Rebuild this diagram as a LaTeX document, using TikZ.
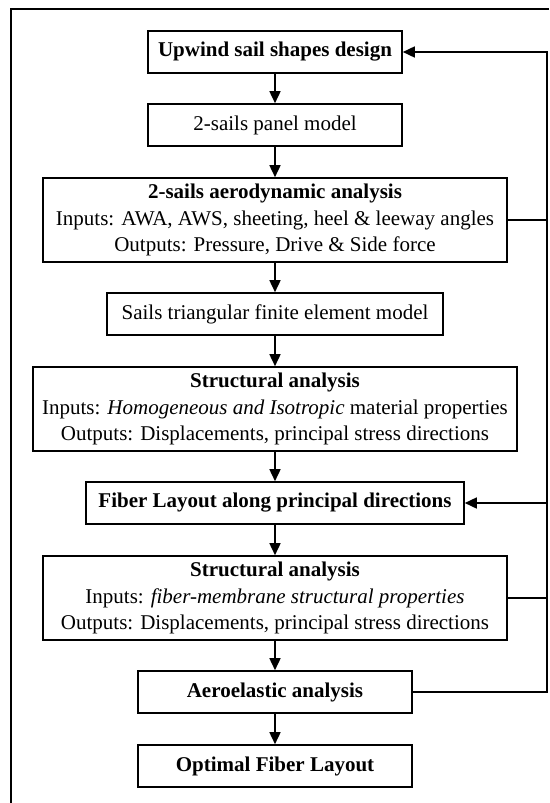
\documentclass[tikz,border=0pt]{standalone}
\usepackage{fontspec}
\setmainfont{Liberation Serif}
\usepackage{tikz}
\usetikzlibrary{arrows.meta,calc,positioning}

\begin{document}
\begin{tikzpicture}[
    x=1pt,
    y=-1pt,
    >={Triangle[length=12pt,width=11pt]},
    box/.style={draw, line width=1.6pt, align=center, minimum height=42pt, inner sep=0pt, font=\fontsize{21}{26.5}\selectfont},
    tallbox/.style={box, minimum height=84pt},
    line/.style={->, line width=1.6pt},
    link/.style={line width=1.6pt}
]
\useasboundingbox (0,0) rectangle (549,803);
% frame round the chart
\draw[link] (549,9) -| (11,803);

\node[box, minimum width=254pt] (design) at (275,52) {\textbf{Upwind sail shapes design}};
\node[box, minimum width=254pt] (panel) at (275,125) {2-sails panel model};
\node[tallbox, minimum width=464pt] (aero) at (275,220) {\textbf{2-sails aerodynamic analysis}\\Inputs: AWA, AWS, sheeting, heel \& leeway angles\\Outputs: Pressure, Drive \& Side force};
\node[box, minimum width=336pt] (fem) at (275,314) {Sails triangular finite element model};
\node[tallbox, minimum width=484pt] (iso) at (275,409) {\textbf{Structural analysis}\\Inputs: \textit{Homogeneous and Isotropic} material properties\\Outputs: Displacements, principal stress directions};
\node[box, minimum width=378pt] (fiber) at (275,503) {\textbf{Fiber Layout along principal directions}};
\node[tallbox, minimum width=464pt] (membrane) at (275,598) {\textbf{Structural analysis}\\Inputs: \textit{fiber-membrane structural properties}\\Outputs: Displacements, principal stress directions};
\node[box, minimum width=274pt] (elastic) at (275,692) {\textbf{Aeroelastic analysis}};
\node[box, minimum width=274pt] (optimal) at (275,766) {\textbf{Optimal Fiber Layout}};
\coordinate (rail) at (547,0);

\draw[line] (design) -- (panel);
\draw[line] (panel) -- (aero);
\draw[line] (aero) -- (fem);
\draw[line] (fem) -- (iso);
\draw[line] (iso) -- (fiber);
\draw[line] (fiber) -- (membrane);
\draw[line] (membrane) -- (elastic);
\draw[line] (elastic) -- (optimal);

% feedback loops
\draw[line] (elastic.east) -- (elastic.east -| rail) |- (design.east);
\draw[line] (fiber.east -| rail) -- (fiber.east);
\draw[link] (aero.east) -- (aero.east -| rail);
\draw[link] (membrane.east) -- (membrane.east -| rail);
\end{tikzpicture}
\end{document}
